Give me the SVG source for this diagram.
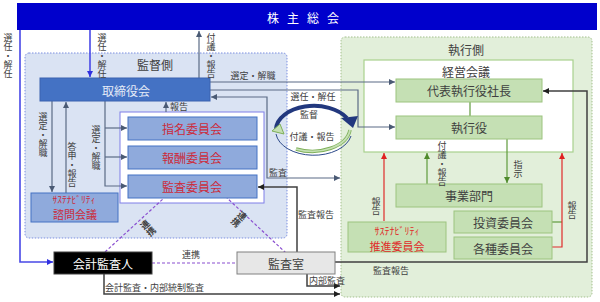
<svg xmlns="http://www.w3.org/2000/svg" width="600" height="302" viewBox="0 0 600 302">
<defs>
<style>
text{font-family:"Noto Sans CJK JP","Noto Sans CJK SC",sans-serif;}
.lbl{font-size:9px;fill:#404040;}
.c{text-anchor:middle;dominant-baseline:central;}
.v{writing-mode:vertical-rl;font-size:9px;fill:#404040;}
.nt{font-size:12px;text-anchor:middle;dominant-baseline:central;}
.ln{fill:none;stroke:#5b6b85;stroke-width:1.2;}
.bl{fill:none;stroke:#4848e6;stroke-width:1.6;}
.dk{fill:none;stroke:#404040;stroke-width:1.5;}
.gr{fill:none;stroke:#5f9a3c;stroke-width:1.2;}
.rd{fill:none;stroke:#e02a2a;stroke-width:1.2;}
.pu{fill:none;stroke:#8a4fd0;stroke-width:1.2;stroke-dasharray:3,2;}
.bbox{fill:#8faadc;stroke:#4472c4;stroke-width:1;}
.gbox{fill:#c5e0b4;stroke:#9cc47f;stroke-width:1;}
.red{fill:#cc2a3a;}
</style>
<marker id="mg" viewBox="0 0 6 6" refX="6" refY="3" markerWidth="6" markerHeight="6" markerUnits="userSpaceOnUse" orient="auto-start-reverse"><path d="M0,0 L6,3 L0,6 z" fill="#4a5a74"/></marker>
<marker id="mb" viewBox="0 0 6 6" refX="6" refY="3" markerWidth="6" markerHeight="6" markerUnits="userSpaceOnUse" orient="auto"><path d="M0,0 L6,3 L0,6 z" fill="#3030e0"/></marker>
<marker id="md" viewBox="0 0 6 6" refX="6" refY="3" markerWidth="6" markerHeight="6" markerUnits="userSpaceOnUse" orient="auto"><path d="M0,0 L6,3 L0,6 z" fill="#202020"/></marker>
<marker id="mgr" viewBox="0 0 6 6" refX="6" refY="3" markerWidth="6" markerHeight="6" markerUnits="userSpaceOnUse" orient="auto"><path d="M0,0 L6,3 L0,6 z" fill="#4f8a2c"/></marker>
<marker id="mr" viewBox="0 0 6 6" refX="6" refY="3" markerWidth="6" markerHeight="6" markerUnits="userSpaceOnUse" orient="auto"><path d="M0,0 L6,3 L0,6 z" fill="#e02020"/></marker>
</defs>
<rect width="600" height="302" fill="#ffffff"/>

<!-- regions -->
<g id="region-supervision">
<rect x="25" y="53" width="262" height="185" rx="4" fill="#dae3f3" stroke="#7b8ee0" stroke-width="1" stroke-dasharray="1.5,1.5"/>
<text class="nt" x="155" y="64" fill="#404040">監督側</text>
</g>
<g id="region-execution">
<rect x="341" y="37" width="251" height="260" rx="4" fill="#e2efda" stroke="#a3bf8c" stroke-width="1" stroke-dasharray="1.5,1.5"/>
<text class="nt" x="466" y="49" fill="#404040">執行側</text>
</g>
<g id="keiei-kaigi">
<rect x="364" y="60" width="209" height="92" fill="#ffffff" stroke="#a9d18e" stroke-width="1.2"/>
<text class="nt" x="466" y="71" fill="#404040">経営会議</text>
</g>
<g id="committee-container">
<rect x="120" y="112" width="144" height="91" fill="#ffffff" stroke="#7f7fe8" stroke-width="1"/>
</g>

<!-- connectors -->
<g id="connectors">
<path class="bl" d="M20,30 V262 H53" marker-end="url(#mb)"/>
<path class="bl" d="M90,30 V77" marker-end="url(#mb)"/>
<path class="ln" d="M199,78 V31" marker-end="url(#mg)"/>
<path class="ln" d="M210,82 H395" marker-end="url(#mg)"/>
<path class="ln" d="M210,90 H358 V127 H395" marker-end="url(#mg)"/>
<path class="ln" d="M211,97 H267 V178 H340" marker-start="url(#mg)" marker-end="url(#mg)"/>
<path class="ln" d="M166,112 V102" marker-end="url(#mg)"/>
<path class="ln" d="M105,101 V186 H127" marker-end="url(#mg)"/>
<path class="ln" d="M105,128 H127" marker-end="url(#mg)"/>
<path class="ln" d="M105,157 H127" marker-end="url(#mg)"/>
<path class="ln" d="M52,101 V192" marker-end="url(#mg)"/>
<path class="ln" d="M66,193 V102" marker-end="url(#mg)"/>
<path class="dk" d="M297,253 V187 H258" marker-end="url(#md)"/>
<path class="dk" d="M335,262 H587 V91 H543" marker-end="url(#md)"/>
<path class="dk" d="M104,274 V294 H340" marker-end="url(#md)"/>
<path class="dk" d="M307,274 V286 H340" marker-end="url(#md)"/>
<path class="pu" d="M152,263 H237"/>
<path class="pu" d="M105,252 L164,198"/>
<path class="pu" d="M286,253 L227,198"/>
<path class="gr" d="M470,102 V116"/>
<path class="gr" d="M507,139 V183" marker-end="url(#mgr)"/>
<path class="gr" d="M427,184 V153" marker-end="url(#mgr)"/>
<path class="gr" d="M552,222 H562"/>
<path class="rd" d="M384,221 V153" marker-end="url(#mr)"/>
<path class="rd" d="M552,247 H562 V153" marker-end="url(#mr)"/>
<!-- cycle arrows -->
<path d="M276,134 A38,24 0 0 0 351,136" fill="none" stroke="#2d4a8a" stroke-width="1"/>
<path d="M276,129 A38,24 0 0 1 347,118" fill="none" stroke="#22387e" stroke-width="4"/>
<polygon points="341,118 358,116 353,128" fill="#22387e"/>
<path d="M350,130 A38,24 0 0 1 296,149" fill="none" stroke="#7fb05a" stroke-width="3.5"/>
<path d="M350,130 A38,24 0 0 1 296,149" fill="none" stroke="#c5e0b4" stroke-width="1.8"/>
<polygon points="272,131 280,124 284,134" fill="#c5e0b4" stroke="#7fb05a" stroke-width="1"/>
</g>

<!-- nodes -->
<g id="shareholders">
<rect x="17" y="3" width="580" height="27" fill="#0000cc"/>
<text class="nt" x="307" y="17" fill="#ffffff" font-size="13" letter-spacing="8">株主総会</text>
</g>
<g id="board">
<rect x="40" y="78" width="170" height="23" fill="#4472c4" stroke="#3a62b0" stroke-width="1"/>
<text class="nt" x="126" y="90" fill="#e4ebf7" font-size="13">取締役会</text>
</g>
<g id="nomination">
<rect class="bbox" x="128" y="117" width="129" height="23"/>
<text class="nt red" x="192" y="128">指名委員会</text>
</g>
<g id="compensation">
<rect class="bbox" x="128" y="146" width="129" height="23"/>
<text class="nt red" x="192" y="157">報酬委員会</text>
</g>
<g id="audit-committee">
<rect class="bbox" x="128" y="175" width="129" height="23"/>
<text class="nt red" x="192" y="186">監査委員会</text>
</g>
<g id="sustainability-advisory">
<rect class="bbox" x="31" y="193" width="87" height="29"/>
<text class="c red" x="74" y="199" font-size="9.5">ｻｽﾃﾅﾋﾞﾘﾃｨ</text>
<text class="c red" x="75" y="214" font-size="11">諮問会議</text>
</g>
<g id="accounting-auditor">
<rect x="54" y="252" width="98" height="22" fill="#000000" stroke="#404040" stroke-width="1"/>
<text class="nt" x="103" y="263" fill="#ffffff">会計監査人</text>
</g>
<g id="audit-office">
<rect x="237" y="252" width="98" height="22" fill="#e7e7e7" stroke="#808080" stroke-width="1"/>
<text class="nt" x="286" y="263" fill="#404040">監査室</text>
</g>
<g id="ceo">
<rect class="gbox" x="396" y="79" width="146" height="23"/>
<text class="nt" x="469" y="90" fill="#404040">代表執行役社長</text>
</g>
<g id="executive-officers">
<rect class="gbox" x="396" y="116" width="146" height="23"/>
<text class="nt" x="469" y="127" fill="#404040">執行役</text>
</g>
<g id="business-divisions">
<rect class="gbox" x="396" y="184" width="146" height="23"/>
<text class="nt" x="469" y="195" fill="#404040">事業部門</text>
</g>
<g id="sustainability-promotion">
<rect class="gbox" x="348" y="222" width="98" height="30"/>
<text class="c" x="397" y="230" font-size="10" fill="#e02a2a">ｻｽﾃﾅﾋﾞﾘﾃｨ</text>
<text class="c" x="397" y="245.5" font-size="11" fill="#e02a2a">推進委員会</text>
</g>
<g id="investment-committee">
<rect class="gbox" x="454" y="211" width="98" height="22"/>
<text class="nt" x="503" y="222" fill="#404040">投資委員会</text>
</g>
<g id="various-committees">
<rect class="gbox" x="454" y="237" width="98" height="22"/>
<text class="nt" x="503" y="248" fill="#404040">各種委員会</text>
</g>

<!-- labels -->
<g id="labels">
<text class="v" x="8" y="33">選任・解任</text>
<text class="v" x="102" y="33">選任・解任</text>
<text class="v" x="211" y="33">付議・報告</text>
<text class="v" x="43" y="112">選定・解職</text>
<text class="v" x="72" y="142">答申・報告</text>
<text class="v" x="96" y="125">選定・解職</text>
<text class="v" x="442" y="141">付議・報告</text>
<text class="v" x="518" y="160">指示</text>
<text class="v" x="376" y="197">報告</text>
<text class="v" x="572" y="201">報告</text>
<text class="lbl c" x="253" y="75">選定・解職</text>
<text class="lbl c" x="179" y="106">報告</text>
<text class="lbl c" x="278" y="172">監査</text>
<text class="lbl c" x="316" y="214">監査報告</text>
<text class="lbl c" x="191" y="254">連携</text>
<text class="lbl" x="105" y="291">会計監査・内部統制監査</text>
<text class="lbl" x="309" y="284">内部監査</text>
<text class="lbl c" x="391" y="270">監査報告</text>
<text class="lbl c" x="313" y="96">選任・解任</text>
<text class="lbl c" x="309" y="114">監督</text>
<text class="lbl c" x="312" y="136">付議・報告</text>
<text class="v" x="0" y="-9" font-weight="bold" fill="#303030" transform="translate(148,228) rotate(-42)">連携</text>
<text class="v" x="0" y="-9" font-weight="bold" fill="#303030" transform="translate(239,219) rotate(43)">連携</text>
</g>
</svg>
